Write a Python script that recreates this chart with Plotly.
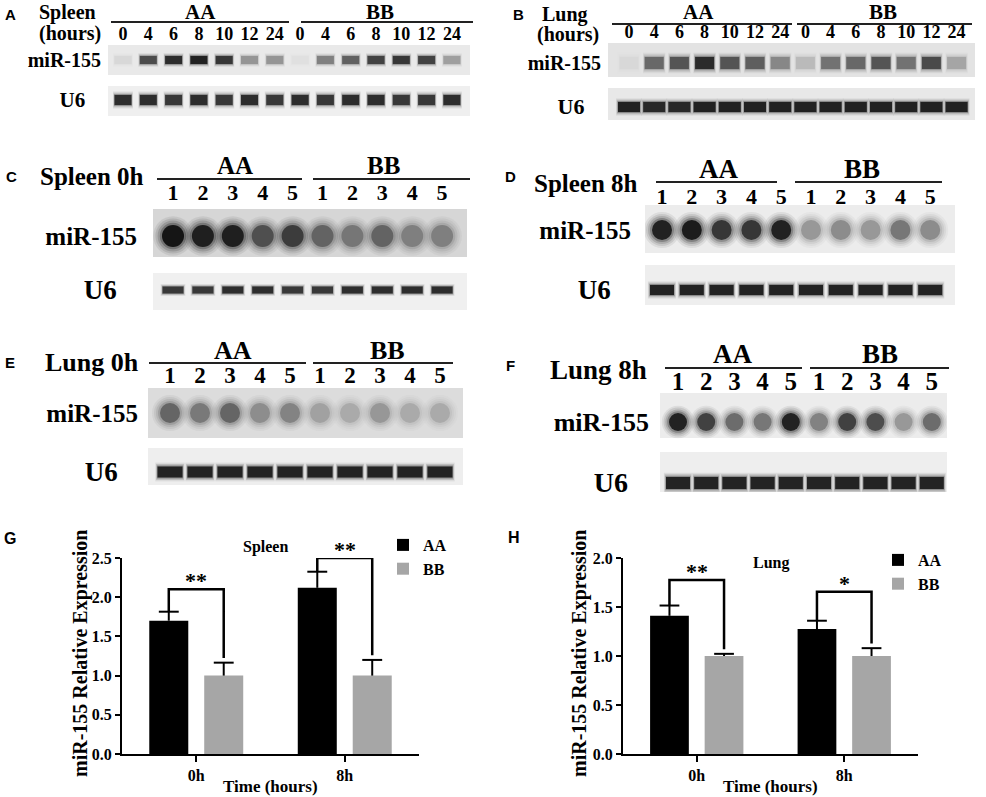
import plotly.graph_objects as go

W, H = 986, 797
def fx(p): return p / W
def fy(p): return 1 - p / H

# ---------------- data ----------------
TIME_LANES = ["0", "4", "6", "8", "10", "12", "24"]
SAMPLE_LANES = ["1", "2", "3", "4", "5"]
GROUPS = ["AA", "BB"]

# band intensities (0 = no signal, 1 = saturated), AA lanes then BB lanes
A_mir155 = [0.08, 0.75, 0.90, 0.95, 0.85, 0.40, 0.40, 0.04, 0.50, 0.65, 0.80, 0.85, 0.80, 0.35]
A_u6     = [0.90, 0.90, 0.85, 0.90, 0.85, 0.90, 0.85, 0.90, 0.85, 0.90, 0.90, 0.85, 0.85, 0.90]
B_mir155 = [0.05, 0.60, 0.70, 0.90, 0.70, 0.65, 0.45, 0.20, 0.55, 0.60, 0.70, 0.55, 0.75, 0.30]
B_u6     = [0.95, 0.92, 0.92, 0.95, 0.95, 0.95, 0.95, 0.95, 0.95, 0.95, 0.95, 0.95, 0.95, 0.95]
C_mir155 = [1.00, 0.95, 0.95, 0.70, 0.80, 0.60, 0.50, 0.60, 0.45, 0.45]
C_u6     = [0.85, 0.85, 0.90, 0.90, 0.85, 0.85, 0.90, 0.90, 0.90, 0.90]
D_mir155 = [0.95, 0.98, 0.85, 0.85, 0.95, 0.40, 0.45, 0.40, 0.55, 0.45]
D_u6     = [0.95, 0.95, 0.95, 0.95, 0.95, 0.95, 0.95, 0.95, 0.95, 0.95]
E_mir155 = [0.60, 0.50, 0.60, 0.40, 0.45, 0.30, 0.25, 0.35, 0.25, 0.25]
E_u6     = [0.95, 0.95, 0.95, 0.95, 0.95, 0.95, 0.95, 0.95, 0.95, 0.95]
F_mir155 = [0.95, 0.80, 0.60, 0.55, 0.95, 0.50, 0.80, 0.75, 0.40, 0.60]
F_u6     = [0.95, 0.95, 0.95, 0.95, 0.95, 0.95, 0.95, 0.95, 0.95, 0.95]

TIMES = ["0h", "8h"]
spleen_AA = [1.70, 2.12]
spleen_AA_sem = [0.115, 0.205]
spleen_BB = [1.00, 1.00]
spleen_BB_sem = [0.165, 0.20]
spleen_sig = ["**", "**"]
spleen_bracket = [2.10, 2.50]

lung_AA = [1.41, 1.275]
lung_AA_sem = [0.105, 0.085]
lung_BB = [1.00, 1.00]
lung_BB_sem = [0.022, 0.08]
lung_sig = ["**", "*"]
lung_bracket = [1.775, 1.655]

# ---------------- styling helpers ----------------
SERIF = "Liberation Serif"
SANS = "Liberation Sans"

def tfont(size, color="black"):
    return dict(family=SERIF, size=size, color=color, weight="bold")

fig = go.Figure()
shapes, annotations, axes = [], [], {}

def axkey(k, a): return f"{a}axis" if k == 1 else f"{a}axis{k}"
def axref(k, a): return a if k == 1 else f"{a}{k}"

def letter(txt, x, y, size=15):
    annotations.append(dict(text=txt, x=fx(x), y=fy(y), xref="paper", yref="paper",
                            xanchor="center", yanchor="middle", showarrow=False,
                            font=dict(family=SANS, size=size, color="black", weight="bold")))

def text(txt, x, y, size, anchor="center", angle=0):
    annotations.append(dict(text=txt, x=fx(x), y=fy(y), xref="paper", yref="paper",
                            xanchor=anchor, yanchor="middle", showarrow=False, font=tfont(size),
                            textangle=angle))

def hline(x0, x1, y, w=2):
    shapes.append(dict(type="line", xref="paper", yref="paper", x0=fx(x0), x1=fx(x1),
                       y0=fy(y), y1=fy(y), line=dict(color="#222", width=w)))

# soft-edged bands: several stacked markers, the outer ones larger and fainter
DOT_LAYERS = [(1.8, 0.07), (1.6, 0.10), (1.4, 0.15), (1.2, 0.25), (1.0, 0.85)]
BAR_LAYERS = [(1.7, 0.08), (1.45, 0.14), (1.2, 0.28), (1.0, 0.85)]

def add_blot(k, g, lanes, mir, u6):
    xr, yr = axref(k, "x"), axref(k, "y")
    n = len(lanes)
    idx = list(range(n))
    unit = g["u"] - g["m"]
    def dy(p): return (g["u"] - p) / unit
    def dx(p): return (p - g["p0"]) / g["s"]
    for (y0, y1), col in ((g["mir_strip"], g["mir_bg"]), (g["u6_strip"], g["u6_bg"])):
        shapes.append(dict(type="rect", xref=xr, yref=yr, x0=dx(g["L"]), x1=dx(g["R"]),
                           y0=dy(y1), y1=dy(y0), fillcolor=col, line=dict(width=0), layer="below"))
    for row, vals, bg, kind, dims in ((1, mir, g["mir_bg"], g["mir_shape"], g["mir_dims"]),
                                      (0, u6, g["u6_bg"], "bar", g["u6_dims"])):
        cs = [[0, bg], [1, "#050505"]]
        layers = DOT_LAYERS if kind == "dot" else BAR_LAYERS
        for scale, op in layers:
            if kind == "dot":
                mk = dict(symbol="circle", size=dims[0] * scale, color=vals, colorscale=cs,
                          cmin=0, cmax=1, line=dict(width=0), opacity=op)
            else:
                length = dims[0] * (1 + (scale - 1) * 0.25)
                mk = dict(symbol="line-ew", size=length / 1.4,
                          line=dict(width=dims[1] * scale, color=vals, colorscale=cs, cmin=0, cmax=1),
                          opacity=op)
            fig.add_trace(go.Scatter(x=idx, y=[row] * n, mode="markers", marker=mk,
                                     xaxis=xr, yaxis=yr, showlegend=False, hoverinfo="skip"))
    r1 = 1 + (g["m"] - g["top"]) / unit
    r0 = -(g["bot"] - g["u"]) / unit
    axes[axkey(k, "x")] = dict(domain=[fx(g["L"]), fx(g["R"])], range=[dx(g["L"]), dx(g["R"])],
                               anchor=yr, side="top", tickmode="array", tickvals=idx, ticktext=lanes,
                               tickfont=tfont(g["lane_size"]), ticks="", showgrid=False,
                               ticklabelstandoff=g["lane_off"],
                               zeroline=False, showline=False, automargin=False, fixedrange=True)
    u6_label = f"<span style='font-size:{g['u6_size']}px'>U6\u00a0\u00a0\u00a0</span>"
    axes[axkey(k, "y")] = dict(domain=[fy(g["bot"]), fy(g["top"])], range=[r0, r1], anchor=xr,
                               tickmode="array", tickvals=[0, 1], ticktext=[u6_label, "miR-155"],
                               tickfont=tfont(g["row_size"]), ticks="", showgrid=False,
                               ticklabelstandoff=g["row_off"],
                               zeroline=False, showline=False, automargin=False, fixedrange=True)
    letter(g["letter"], *g["letter_xy"])
    for t, x, y in g["labels"]:
        text(t, x, y, g["label_size"], anchor="left")
    for name, tx, (l0, l1) in zip(GROUPS, g["grp_x"], g["grp_lines"]):
        text(name, tx, g["grp_y"], g["grp_size"])
        hline(l0, l1, g["line_y"])

PANELS = [
    dict(k=1, letter="A", letter_xy=(10, 14), labels=[("Spleen", 37, 13), ("(hours)", 37, 33)], label_size=20,
         lanes=TIME_LANES * 2, mir=A_mir155, u6=A_u6,
         p0=123, s=25.3, L=108, R=470, top=45, bot=116, m=60, u=100, mir_strip=(45, 75), u6_strip=(86, 116),
         mir_bg="#e9e9e9", u6_bg="#efefef", mir_shape="bar", mir_dims=(17, 8), u6_dims=(17, 10),
         lane_size=18, row_size=20, u6_size=21, grp_size=21, grp_y=12, line_y=22, lane_off=0, row_off=6,
         grp_x=(200, 380), grp_lines=((111, 289), (301, 473))),
    dict(k=2, letter="B", letter_xy=(518, 14), labels=[("Lung", 540, 15), ("(hours)", 535, 34)], label_size=20,
         lanes=TIME_LANES * 2, mir=B_mir155, u6=B_u6,
         p0=629, s=25.2, L=608, R=975, top=43, bot=120, m=63, u=107, mir_strip=(43, 77), u6_strip=(88, 120),
         mir_bg="#e3e3e3", u6_bg="#e8e8e8", mir_shape="bar", mir_dims=(19, 12), u6_dims=(22, 10),
         lane_size=18, row_size=20, u6_size=22, grp_size=21, grp_y=12, line_y=24, lane_off=0, row_off=6,
         grp_x=(698, 883), grp_lines=((612, 792), (797, 972))),
    dict(k=3, letter="C", letter_xy=(11, 177), labels=[("Spleen 0h", 38, 177)], label_size=25,
         lanes=SAMPLE_LANES * 2, mir=C_mir155, u6=C_u6,
         p0=173, s=29.9, L=153, R=467, top=209, bot=310, m=236, u=290, mir_strip=(209, 257), u6_strip=(273, 310),
         mir_bg="#d6d6d6", u6_bg="#f0f0f0", mir_shape="dot", mir_dims=(22, 0), u6_dims=(21, 7),
         lane_size=22, row_size=25, u6_size=27, grp_size=25, grp_y=165, line_y=179, lane_off=4, row_off=15,
         grp_x=(235, 383), grp_lines=((157, 302), (313, 470))),
    dict(k=4, letter="D", letter_xy=(511, 176), labels=[("Spleen 8h", 532, 183)], label_size=25,
         lanes=SAMPLE_LANES * 2, mir=D_mir155, u6=D_u6,
         p0=662, s=29.8, L=645, R=955, top=205, bot=305, m=230, u=290, mir_strip=(205, 253), u6_strip=(265, 305),
         mir_bg="#ececec", u6_bg="#eeeeee", mir_shape="dot", mir_dims=(20, 0), u6_dims=(24, 10),
         lane_size=22, row_size=25, u6_size=27, grp_size=27, grp_y=169, line_y=182, lane_off=-4, row_off=13,
         grp_x=(718, 862), grp_lines=((656, 777), (795, 942))),
    dict(k=5, letter="E", letter_xy=(10, 363), labels=[("Lung 0h", 43, 363)], label_size=26,
         lanes=SAMPLE_LANES * 2, mir=E_mir155, u6=E_u6,
         p0=170, s=30.0, L=148, R=463, top=388, bot=485, m=413, u=472, mir_strip=(388, 438), u6_strip=(448, 485),
         mir_bg="#dcdcdc", u6_bg="#eeeeee", mir_shape="dot", mir_dims=(20, 0), u6_dims=(25, 11),
         lane_size=23, row_size=25, u6_size=27, grp_size=26, grp_y=350, line_y=363, lane_off=-1, row_off=9,
         grp_x=(233, 387), grp_lines=((149, 306), (313, 453))),
    dict(k=6, letter="F", letter_xy=(511, 365), labels=[("Lung 8h", 548, 370)], label_size=27,
         lanes=SAMPLE_LANES * 2, mir=F_mir155, u6=F_u6,
         p0=678, s=28.2, L=660, R=947, top=393, bot=492, m=422, u=483, mir_strip=(393, 438), u6_strip=(452, 492),
         mir_bg="#ececec", u6_bg="#eeeeee", mir_shape="dot", mir_dims=(18, 0), u6_dims=(24, 12),
         lane_size=25, row_size=26, u6_size=28, grp_size=27, grp_y=354, line_y=368, lane_off=-3, row_off=10,
         grp_x=(732, 880), grp_lines=((665, 802), (810, 949))),
]

for g in PANELS:
    add_blot(g["k"], g, g["lanes"], g["mir"], g["u6"])

# ---------------- bar charts ----------------
BAR_GAP, GROUP_GAP = 0.26, 0.29
OFF = (1 - BAR_GAP) / 4
CAP = 0.067

def add_bars(k, AA, AAe, BB, BBe, sig, bracket, ymax, title, title_xy, legend_name, xdom, legend_xy, ytitle_x):
    xr, yr = axref(k, "x"), axref(k, "y")
    xs = list(range(len(TIMES)))
    fig.add_trace(go.Bar(x=xs, y=AA, name="AA", marker=dict(color="black", line=dict(width=0)),
                         xaxis=xr, yaxis=yr, legend=legend_name, hoverinfo="skip"))
    fig.add_trace(go.Bar(x=xs, y=BB, name="BB", marker=dict(color="#a6a6a6", line=dict(width=0)),
                         xaxis=xr, yaxis=yr, legend=legend_name, hoverinfo="skip"))
    ex, ey, bx, by = [], [], [], []
    gap = 0.024 * ymax
    for i in xs:
        for vals, errs, sg in ((AA, AAe, -1), (BB, BBe, 1)):
            cx = i + sg * OFF
            top = vals[i] + errs[i]
            ex += [cx, cx, None, cx - CAP, cx + CAP, None]
            ey += [vals[i], top, None, top, top, None]
        bx += [i - OFF, i - OFF, i + OFF, i + OFF, None]
        by += [AA[i] + AAe[i], bracket[i], bracket[i], BB[i] + BBe[i] + gap, None]
        annotations.append(dict(text=sig[i], x=i, y=bracket[i], xref=xr, yref=yr, xanchor="center",
                                yanchor="bottom", yshift=-6, showarrow=False, font=tfont(22)))
    fig.add_trace(go.Scatter(x=ex, y=ey, mode="lines", line=dict(color="black", width=2),
                             xaxis=xr, yaxis=yr, showlegend=False, hoverinfo="skip"))
    fig.add_trace(go.Scatter(x=bx, y=by, mode="lines", line=dict(color="black", width=2.5),
                             xaxis=xr, yaxis=yr, showlegend=False, hoverinfo="skip"))
    text(title, *title_xy, 16)
    # axis titles placed exactly where the reference has them
    text("Time (hours)", (xdom[0] + xdom[1]) / 2, 786, 17)
    text("miR-155 Relative Expression", ytitle_x, 654, 20, angle=-90)
    axes[axkey(k, "x")] = dict(domain=[fx(xdom[0]), fx(xdom[1])], range=[-0.5, 1.5], anchor=yr,
                               tickmode="array", tickvals=xs, ticktext=TIMES, tickfont=tfont(16),
                               showline=True, linecolor="black", linewidth=2, ticks="outside",
                               ticklen=6, tickwidth=2, tickcolor="black", showgrid=False, zeroline=False,
                               automargin=False, fixedrange=True)
    axes[axkey(k, "y")] = dict(domain=[fy(754), fy(558)], range=[0, ymax], dtick=0.5, tickformat=".1f",
                               anchor=xr, tickfont=tfont(16), showline=True, linecolor="black",
                               linewidth=2, ticks="outside", ticklen=5, tickwidth=2, tickcolor="black",
                               showgrid=False, zeroline=False, automargin=False, fixedrange=True)
    axes[legend_name] = dict(x=fx(legend_xy[0]), y=fy(legend_xy[1]), xanchor="left", yanchor="top",
                             font=tfont(16), bgcolor="rgba(0,0,0,0)", tracegroupgap=0, itemwidth=30,
                             traceorder="normal")

letter("G", 10, 538, 16)
letter("H", 514, 537, 16)
add_bars(7, spleen_AA, spleen_AA_sem, spleen_BB, spleen_BB_sem, spleen_sig, spleen_bracket, 2.5,
         "Spleen", (265, 547), "legend", (122, 419), (383, 528), 80)
add_bars(8, lung_AA, lung_AA_sem, lung_BB, lung_BB_sem, lung_sig, lung_bracket, 2.0,
         "Lung", (771, 563), "legend2", (623, 918), (878, 543), 579)

fig.update_layout(width=W, height=H, autosize=False, margin=dict(l=0, r=0, t=0, b=0),
                  paper_bgcolor="white", plot_bgcolor="white", showlegend=True,
                  barmode="group", bargap=BAR_GAP, bargroupgap=GROUP_GAP,
                  shapes=shapes, annotations=annotations, **axes)

# remove the browser's default 8px page margin so the figure fills the window exactly
fig.write_html("out.html", config={"displayModeBar": False, "staticPlot": True},
               post_script="document.body.style.margin='0';document.body.style.overflow='hidden';")
